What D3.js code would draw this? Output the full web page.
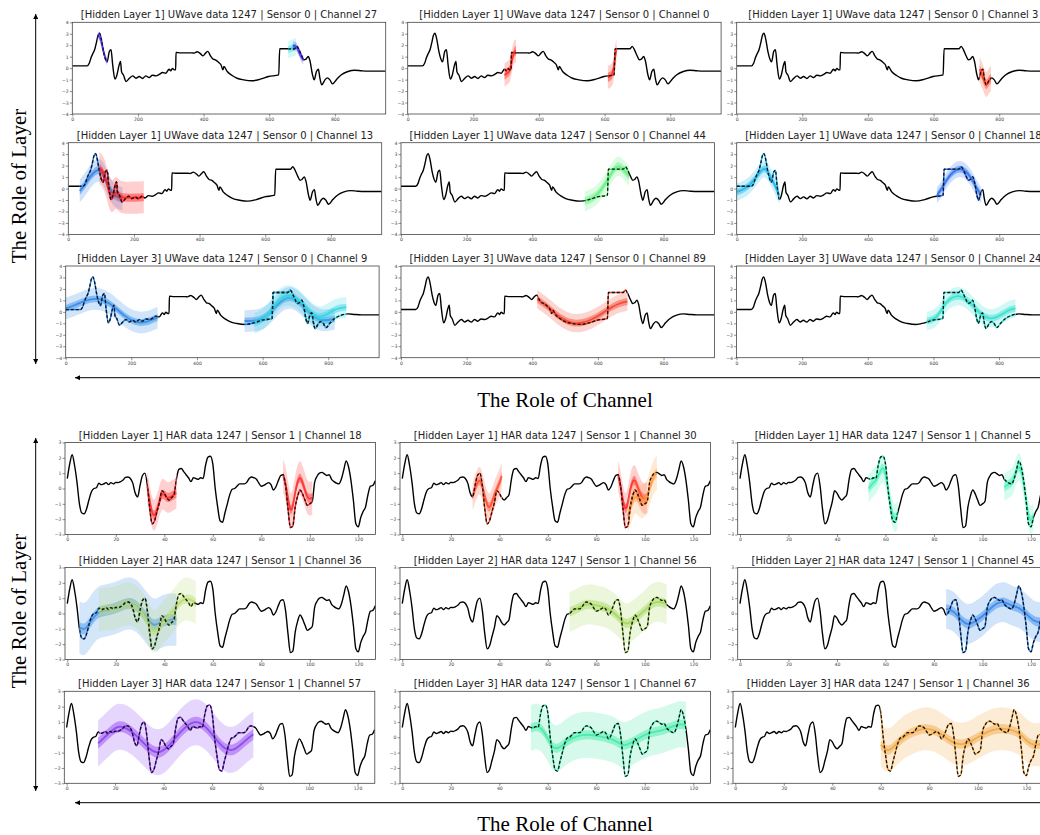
<!DOCTYPE html>
<html>
<head>
<meta charset="utf-8">
<script src="https://cdn.jsdelivr.net/npm/d3@7"></script>
<style>
html, body { margin: 0; padding: 0; background: #fff; overflow: hidden; }
svg { display: block; }
</style>
</head>
<body>
<svg id="fig" width="1040" height="835"></svg>
<script>
// ---------- data ----------
var uwX = [0,45,52,57,63,68,74,78,83,88,95,101,106,113,118,123,130,136,142,147,150,156,164,174,184,194,204,214,224,234,244,255,265,275,285,295,300,305,312,315,316,330,350,365,371,381,391,398,406,413,421,429,436,446,453,459,462,472,487,502,522,547,573,598,629,632,677,684,691,699,706,712,719,724,732,737,744,750,754,760,770,777,785,793,806,820,840,861,881,901,926,955];
var uwY = [0.2,0.2,0.45,0.9,1.3,1.6,2.3,2.83,3.05,2.6,1.46,0.8,0.55,1.46,1.6,0.3,-0.96,-0.6,0.2,0.58,-0.3,-0.6,-1.17,-0.88,-0.67,-0.88,-0.73,-0.9,-0.67,-0.82,-0.62,-0.67,-0.55,-0.38,-0.44,-0.09,-0.23,-0.03,-0.15,-0.15,1.37,1.33,1.33,1.33,1.31,1.43,1.25,1.08,1.31,1.46,1.08,0.79,0.73,0.5,0.3,-0.15,0.15,-0.29,-0.64,-0.88,-1.02,-1.1,-0.96,-0.73,-0.58,1.69,1.69,1.9,1.6,1.08,0.73,0.79,1.02,0.67,-0.58,-1.02,-0.3,-0.09,-0.79,-1.46,-1.02,-0.85,-1.02,-1.37,-0.96,-0.58,-0.29,-0.18,-0.23,-0.26,-0.26,-0.26];

var harY = [0.64,1.6,2.2,1.5,0.4,-1.0,-1.6,-1.65,-1.3,-0.7,-0.2,0.0,0.05,0.35,0.25,0.3,0.38,0.25,0.38,0.3,0.4,0.38,0.45,0.55,0.72,0.75,0.65,0.35,-0.3,-0.55,0.2,0.85,1.0,0.2,-1.3,-2.3,-2.1,-1.5,-0.9,-0.15,-0.3,-0.6,-0.75,-0.6,-0.4,0.6,1.25,1.3,1.1,0.9,0.7,0.45,0.7,0.65,0.6,0.7,0.65,1.5,2.05,2.1,1.6,0.0,-1.2,-2.1,-2.2,-1.6,-1.0,-0.4,-0.05,0.0,0.15,0.3,0.3,0.3,0.4,0.65,0.75,0.7,0.6,0.35,0.15,0.2,0.3,0.38,0.25,-0.1,0.1,0.5,0.85,0.9,0.2,-1.3,-2.55,-2.45,-1.2,-0.5,-0.1,-0.35,-0.75,-1.1,-1.0,-0.85,0.4,0.8,1.0,1.05,0.95,0.85,0.9,0.6,0.45,0.35,0.3,0.6,1.2,1.8,1.4,0.5,-0.8,-2.3,-2.5,-1.9,-1.5,-1.2,-0.4,0.15,0.2,0.5];

var uwTitles = [
  "[Hidden Layer 1] UWave data 1247 | Sensor 0 | Channel 27",
  "[Hidden Layer 1] UWave data 1247 | Sensor 0 | Channel 0",
  "[Hidden Layer 1] UWave data 1247 | Sensor 0 | Channel 3",
  "[Hidden Layer 1] UWave data 1247 | Sensor 0 | Channel 13",
  "[Hidden Layer 1] UWave data 1247 | Sensor 0 | Channel 44",
  "[Hidden Layer 1] UWave data 1247 | Sensor 0 | Channel 18",
  "[Hidden Layer 3] UWave data 1247 | Sensor 0 | Channel 9",
  "[Hidden Layer 3] UWave data 1247 | Sensor 0 | Channel 89",
  "[Hidden Layer 3] UWave data 1247 | Sensor 0 | Channel 24"
];
var harTitles = [
  "[Hidden Layer 1] HAR data 1247 | Sensor 1 | Channel 18",
  "[Hidden Layer 1] HAR data 1247 | Sensor 1 | Channel 30",
  "[Hidden Layer 1] HAR data 1247 | Sensor 1 | Channel 5",
  "[Hidden Layer 2] HAR data 1247 | Sensor 1 | Channel 36",
  "[Hidden Layer 2] HAR data 1247 | Sensor 1 | Channel 56",
  "[Hidden Layer 2] HAR data 1247 | Sensor 1 | Channel 45",
  "[Hidden Layer 3] HAR data 1247 | Sensor 1 | Channel 57",
  "[Hidden Layer 3] HAR data 1247 | Sensor 1 | Channel 67",
  "[Hidden Layer 3] HAR data 1247 | Sensor 1 | Channel 36"
];

var uwXTicks = [0,200,400,600,800];
var uwYTicks = [-4,-3,-2,-1,0,1,2,3,4];
var harXTicks = [0,20,40,60,80,100,120];
var harYTicks = [-3,-2,-1,0,1,2,3];

// highlighted regions: panel, colour, knots, mean, inner / outer half width
var uwBands = [
  {p:0, c:"#5a3cf0", xs:[78,85,92,99,106], mu:[2.9,2.7,1.8,1.0,0.55], s1:0.15, s2:0.35},
  {p:0, c:"#35e0d8", xs:[658,666,674,682], mu:[1.6,1.7,1.8,1.9], s1:0.3, s2:0.75},
  {p:0, c:"#4a3cf0", xs:[672,680,688,696,704], mu:[1.9,2.0,1.6,1.0,0.7], s1:0.15, s2:0.4},
  {p:1, c:"#ff2a1a", xs:[295,305,313,318,325,330], mu:[-0.6,-0.4,-0.2,0.8,1.5,1.5], s1:0.4, s2:1.0},
  {p:1, c:"#ff2a1a", xs:[610,618,626,632,636], mu:[-0.8,-0.7,-0.5,1.0,1.6], s1:0.4, s2:1.0},
  {p:2, c:"#ff3a1a", xs:[740,748,756,762,768,775], mu:[-0.1,-0.6,-1.3,-1.5,-1.1,-0.9], s1:0.4, s2:1.1},
  {p:3, c:"#2b7de8", xs:[35,50,65,80,95,110,125,140,155,165], mu:[-0.2,0.3,1.0,1.5,1.7,1.2,0.0,-0.6,-0.8,-0.9], s1:0.35, s2:1.0},
  {p:3, c:"#ff2020", xs:[95,105,115,125,135,145,155,170,190,210,230], mu:[1.8,1.5,0.8,-0.5,-0.8,-0.2,-0.7,-0.8,-0.8,-0.8,-0.75], s1:0.35, s2:1.4},
  {p:4, c:"#5ef07c", xs:[560,580,600,620,640,655,665,680,695], mu:[-1.1,-0.9,-0.5,0.3,1.3,1.9,2.0,1.6,1.1], s1:0.35, s2:0.85},
  {p:5, c:"#1ab4e6", xs:[0,20,40,60,75,85,95,105,115,125,130], mu:[-0.3,-0.1,0.3,1.0,1.6,1.8,1.5,0.9,0.4,-0.3,-0.6], s1:0.3, s2:0.75},
  {p:5, c:"#2a6ff0", xs:[610,625,640,660,680,700,715,730,745], mu:[-0.6,0.0,0.8,1.5,1.8,1.5,0.9,0.1,-0.6], s1:0.3, s2:0.7},
  {p:6, c:"#2d88e8", xs:[0,30,60,90,120,150,180,210,240,280], mu:[0.3,0.6,1.0,1.2,1.0,0.4,-0.4,-0.9,-1.0,-0.5], s1:0.3, s2:0.95},
  {p:6, c:"#2d88e8", xs:[545,580,610,640,670,700,730,760,790,820], mu:[-0.8,-0.8,-0.5,0.5,1.3,1.2,0.3,-0.6,-0.8,-0.6], s1:0.3, s2:0.95},
  {p:6, c:"#35d6e4", xs:[575,610,640,660,690,720,750,780,820,855], mu:[-1.0,-0.6,0.8,1.4,1.5,0.8,-0.2,-0.6,0.3,0.4], s1:0.3, s2:0.9},
  {p:7, c:"#f5402a", xs:[415,440,465,490,520,550,580,610,640,670,690], mu:[1.1,0.6,0.0,-0.6,-1.0,-1.0,-0.7,-0.2,0.4,0.8,0.9], s1:0.3, s2:0.8},
  {p:8, c:"#2fe0cf", xs:[580,610,630,650,680,710,740,770,800,830,850], mu:[-0.8,-0.6,0.5,1.2,1.5,0.9,-0.1,-0.7,-0.4,0.2,0.3], s1:0.3, s2:0.8}
];
var harBands = [
  {p:0, c:"#ff2a2a", xs:[33,34,35,36,37,38,39,40,41,42,43,44,45], mu:[0.1,-0.8,-1.7,-1.8,-1.4,-0.8,-0.3,-0.4,-0.6,-0.6,-0.5,-0.4,-0.3], s1:0.3, s2:1.0},
  {p:0, c:"#ff2a2a", xs:[89,90,91,92,93,94,95,96,97,98,99,100,101], mu:[0.8,0.4,-0.6,-1.6,-1.2,-0.2,0.5,0.8,0.4,-0.1,-0.6,-0.7,-0.6], s1:0.3, s2:1.1},
  {p:1, c:"#ff4a2a", xs:[29,30,31,32,33,34,35,36,37,38,39,40,41], mu:[-0.5,0.0,0.4,0.6,0.2,-0.5,-1.1,-1.3,-0.9,-0.4,0.0,0.3,0.8], s1:0.3, s2:0.9},
  {p:1, c:"#ff2a2a", xs:[89,90,91,92,93,94,95,96,97,98,99,100,101], mu:[0.8,0.2,-0.8,-1.5,-1.0,0.0,0.5,0.6,0.1,-0.3,-0.6,-0.7,-0.6], s1:0.3, s2:1.0},
  {p:1, c:"#ff9a40", xs:[93,94,95,96,97,98,99,100,101,102,103,104,105], mu:[-1.8,-1.3,-0.8,-0.5,-0.6,-0.8,-0.9,-0.7,-0.6,0.0,0.5,0.9,1.0], s1:0.3, s2:1.1},
  {p:2, c:"#3cf0b4", xs:[53,54,55,56,57,58,59,60,61,62,63,64,65], mu:[0.0,0.2,0.4,0.5,0.8,1.2,1.4,1.0,0.0,-1.0,-1.8,-2.0,-1.7], s1:0.3, s2:0.9},
  {p:2, c:"#3cf0b4", xs:[109,110,111,112,113,114,115,116,117,118,119,120,121], mu:[0.1,0.2,0.3,0.4,0.7,1.2,1.5,1.2,0.3,-0.8,-1.8,-2.2,-1.8], s1:0.3, s2:0.9},
  {p:3, c:"#3b8fe6", xs:[5,7,9,11,13,16,19,22,25,28,31,34,36,38,41,43,45], mu:[-0.9,-1.1,-0.7,-0.2,0.1,0.2,0.3,0.5,0.7,0.6,0.1,-0.6,-0.8,-0.6,-0.4,-0.4,-0.4], s1:0.35, s2:1.7},
  {p:3, c:"#b9dc70", xs:[13,16,19,22,25,28,31,34,36,38,41,44,47,50,53], mu:[0.2,0.3,0.3,0.5,0.7,0.5,0.1,-0.9,-1.3,-0.9,-0.3,0.2,0.9,1.0,0.7], s1:0.3, s2:1.4},
  {p:4, c:"#a3d65c", xs:[69,72,75,78,81,84,87,90,92,94,97,100,103,106,109], mu:[0.1,0.3,0.6,0.6,0.5,0.4,0.1,-0.4,-0.7,-0.6,-0.2,0.2,0.7,0.8,0.6], s1:0.3, s2:1.3},
  {p:5, c:"#3185ea", xs:[85,88,91,94,97,100,103,106,109,112,115,118,121,124,127], mu:[0.3,0.2,-0.4,-0.8,-0.5,-0.2,0.3,0.7,0.8,0.5,0.4,0.0,-0.5,-0.6,-0.5], s1:0.3, s2:1.3},
  {p:6, c:"#8b3ff0", xs:[13,17,21,25,29,33,37,41,45,49,53,57,61,65,69,73,77], mu:[-0.4,0.2,0.8,0.6,0.1,-0.6,-1.1,-0.8,0.0,0.7,1.1,0.8,0.0,-0.8,-0.9,-0.3,0.2], s1:0.35, s2:1.5},
  {p:7, c:"#3eeaa6", xs:[53,56,59,62,65,68,72,76,80,84,88,91,94,98,102,106,110,114,117], mu:[0.6,0.8,0.3,-0.8,-0.7,-0.2,0.1,0.2,0.1,0.0,-0.2,-0.6,-0.4,0.0,0.3,0.4,0.6,0.9,0.8], s1:0.3, s2:1.5},
  {p:8, c:"#f0a640", xs:[60,63,66,70,74,78,82,86,90,94,98,102,106,110,114,118,122,127], mu:[-0.5,-1.0,-0.5,0.1,0.4,0.6,0.5,0.1,-0.4,-0.5,-0.2,0.2,0.5,0.6,0.5,0.2,-0.6,-0.4], s1:0.3, s2:1.4}
];

// ---------- layout ----------
var uwTops = [22.3, 142.7, 266];
var uwLefts = [[72.3, 407.7, 736.7], [68.3, 401, 736.7], [65.7, 401, 736.5]];
var uwW = 313.4, uwH = 91.7;
var harTops = [442.5, 567.5, 691.3];
var harLefts = [[65, 400, 737.7], [65, 400, 737.7], [64.3, 400, 733]];
var harW = 310.5, harH = 92;

var svg = d3.select('#fig');
var defs = svg.append('defs');

defs.append('marker').attr('id', 'arr')
  .attr('viewBox', '0 0 10 10').attr('refX', 10).attr('refY', 5)
  .attr('markerUnits', 'userSpaceOnUse')
  .attr('markerWidth', 6).attr('markerHeight', 5)
  .attr('orient', 'auto-start-reverse')
  .append('path').attr('d', 'M0,0 L10,5 L0,10 z').attr('fill', '#000');

function val(s, i){ return Array.isArray(s) ? s[i] : s; }

function drawPanel(cfg){
  var g = svg.append('g').attr('transform', 'translate(' + cfg.left + ',' + cfg.top + ')');
  var x = d3.scaleLinear().domain(cfg.xDom).range([0, cfg.w]);
  var y = d3.scaleLinear().domain(cfg.yDom).range([cfg.h, 0]);

  var cid = 'clip' + cfg.id;
  defs.append('clipPath').attr('id', cid)
    .append('rect').attr('width', cfg.w).attr('height', cfg.h);
  var plot = g.append('g').attr('clip-path', 'url(#' + cid + ')');

  var line = d3.line().curve(d3.curveMonotoneX)
    .x(function(d){ return x(d[0]); }).y(function(d){ return y(d[1]); });

  // bands
  cfg.bands.forEach(function(b){
    var pts = b.xs.map(function(xv, i){
      return {x: xv, m: b.mu[i], s1: val(b.s1, i), s2: val(b.s2, i)};
    });
    var outer = d3.area().curve(d3.curveBasis).x(function(d){ return x(d.x); })
      .y0(function(d){ return y(d.m - d.s2); }).y1(function(d){ return y(d.m + d.s2); });
    var inner = d3.area().curve(d3.curveBasis).x(function(d){ return x(d.x); })
      .y0(function(d){ return y(d.m - d.s1); }).y1(function(d){ return y(d.m + d.s1); });
    var mean = d3.line().curve(d3.curveBasis).x(function(d){ return x(d.x); })
      .y(function(d){ return y(d.m); });
    plot.append('path').attr('d', outer(pts)).attr('fill', b.c).attr('fill-opacity', 0.22);
    plot.append('path').attr('d', inner(pts)).attr('fill', b.c).attr('fill-opacity', 0.45);
    plot.append('path').attr('d', mean(pts)).attr('fill', 'none')
      .attr('stroke', b.c).attr('stroke-width', 1.8).attr('stroke-opacity', 0.85);
  });

  // solid curve outside highlighted spans
  var mid = 'mask' + cfg.id;
  var mask = defs.append('mask').attr('id', mid).attr('maskUnits', 'userSpaceOnUse')
    .attr('x', -10).attr('y', -10).attr('width', cfg.w + 20).attr('height', cfg.h + 20);
  mask.append('rect').attr('x', -10).attr('y', -10)
    .attr('width', cfg.w + 20).attr('height', cfg.h + 20).attr('fill', '#fff');
  cfg.bands.forEach(function(b){
    mask.append('rect').attr('x', x(b.xs[0])).attr('y', -10)
      .attr('width', x(b.xs[b.xs.length - 1]) - x(b.xs[0])).attr('height', cfg.h + 20)
      .attr('fill', '#000');
  });
  plot.append('path').attr('d', line(cfg.data)).attr('fill', 'none')
    .attr('stroke', '#000').attr('stroke-width', 1.4).attr('mask', 'url(#' + mid + ')');

  // dashed curve inside spans
  cfg.bands.forEach(function(b, k){
    var sid = 'span' + cfg.id + '_' + k;
    defs.append('clipPath').attr('id', sid).append('rect')
      .attr('x', x(b.xs[0])).attr('y', -10)
      .attr('width', x(b.xs[b.xs.length - 1]) - x(b.xs[0])).attr('height', cfg.h + 20);
    var sg = plot.append('g').attr('clip-path', 'url(#' + sid + ')');
    sg.append('path').attr('d', line(cfg.data)).attr('fill', 'none')
      .attr('stroke', b.c).attr('stroke-width', 1.5);
    sg.append('path').attr('d', line(cfg.data)).attr('fill', 'none')
      .attr('stroke', '#111').attr('stroke-width', 1.3).attr('stroke-dasharray', '3,2');
  });

  // frame and axes
  g.append('rect').attr('width', cfg.w).attr('height', cfg.h)
    .attr('fill', 'none').attr('stroke', '#444').attr('stroke-width', 0.8);

  var fmt = d3.format('d');
  var ax = g.append('g').attr('transform', 'translate(0,' + cfg.h + ')')
    .call(d3.axisBottom(x).tickValues(cfg.xTicks).tickFormat(fmt).tickSize(2.5).tickPadding(1.2));
  var ay = g.append('g')
    .call(d3.axisLeft(y).tickValues(cfg.yTicks).tickFormat(fmt).tickSize(2.5).tickPadding(1));
  [ax, ay].forEach(function(a){
    a.select('.domain').remove();
    a.attr('color', '#444').attr('font-size', 4.6).attr('font-family', 'DejaVu Sans');
    a.selectAll('line').attr('stroke-width', 0.6);
  });

  g.append('text').attr('x', cfg.w / 2).attr('y', -4)
    .attr('text-anchor', 'middle').attr('font-family', 'DejaVu Sans')
    .attr('font-size', 10).attr('fill', '#222').text(cfg.title);
}

var uwData = uwX.map(function(v, i){ return [v, uwY[i]]; });
var harData = harY.map(function(v, i){ return [i, v]; });

for (var r = 0; r < 3; r++) {
  for (var c = 0; c < 3; c++) {
    var idx = r * 3 + c;
    drawPanel({
      id: 'u' + idx, left: uwLefts[r][c], top: uwTops[r], w: uwW, h: uwH,
      xDom: [0, 955], yDom: [-4, 4], xTicks: uwXTicks, yTicks: uwYTicks,
      data: uwData, title: uwTitles[idx],
      bands: uwBands.filter(function(b){ return b.p === idx; })
    });
    drawPanel({
      id: 'h' + idx, left: harLefts[r][c], top: harTops[r], w: harW, h: harH,
      xDom: [-0.95, 127.1], yDom: [-3, 3], xTicks: harXTicks, yTicks: harYTicks,
      data: harData, title: harTitles[idx],
      bands: harBands.filter(function(b){ return b.p === idx; })
    });
  }
}

// ---------- arrows and role labels ----------
function arrow(x1, y1, x2, y2, both){
  var l = svg.append('line').attr('x1', x1).attr('y1', y1).attr('x2', x2).attr('y2', y2)
    .attr('stroke', '#000').attr('stroke-width', 1)
    .attr('marker-start', 'url(#arr)');
  if (both) l.attr('marker-end', 'url(#arr)');
}
arrow(35.7, 14, 35.7, 364, true);
arrow(75, 377.7, 1045, 377.7, false);
arrow(35.7, 438, 35.7, 791, true);
arrow(75, 802.7, 1045, 802.7, false);

function roleText(x, y, rot, txt){
  svg.append('text').attr('transform', 'translate(' + x + ',' + y + ') rotate(' + rot + ')')
    .attr('text-anchor', 'middle').attr('font-family', 'Liberation Serif')
    .attr('font-size', 21).attr('fill', '#000').text(txt);
}
roleText(26, 186, -90, 'The Role of Layer');
roleText(26, 611, -90, 'The Role of Layer');
roleText(565, 406.5, 0, 'The Role of Channel');
roleText(565, 830.5, 0, 'The Role of Channel');
</script>
</body>
</html>
